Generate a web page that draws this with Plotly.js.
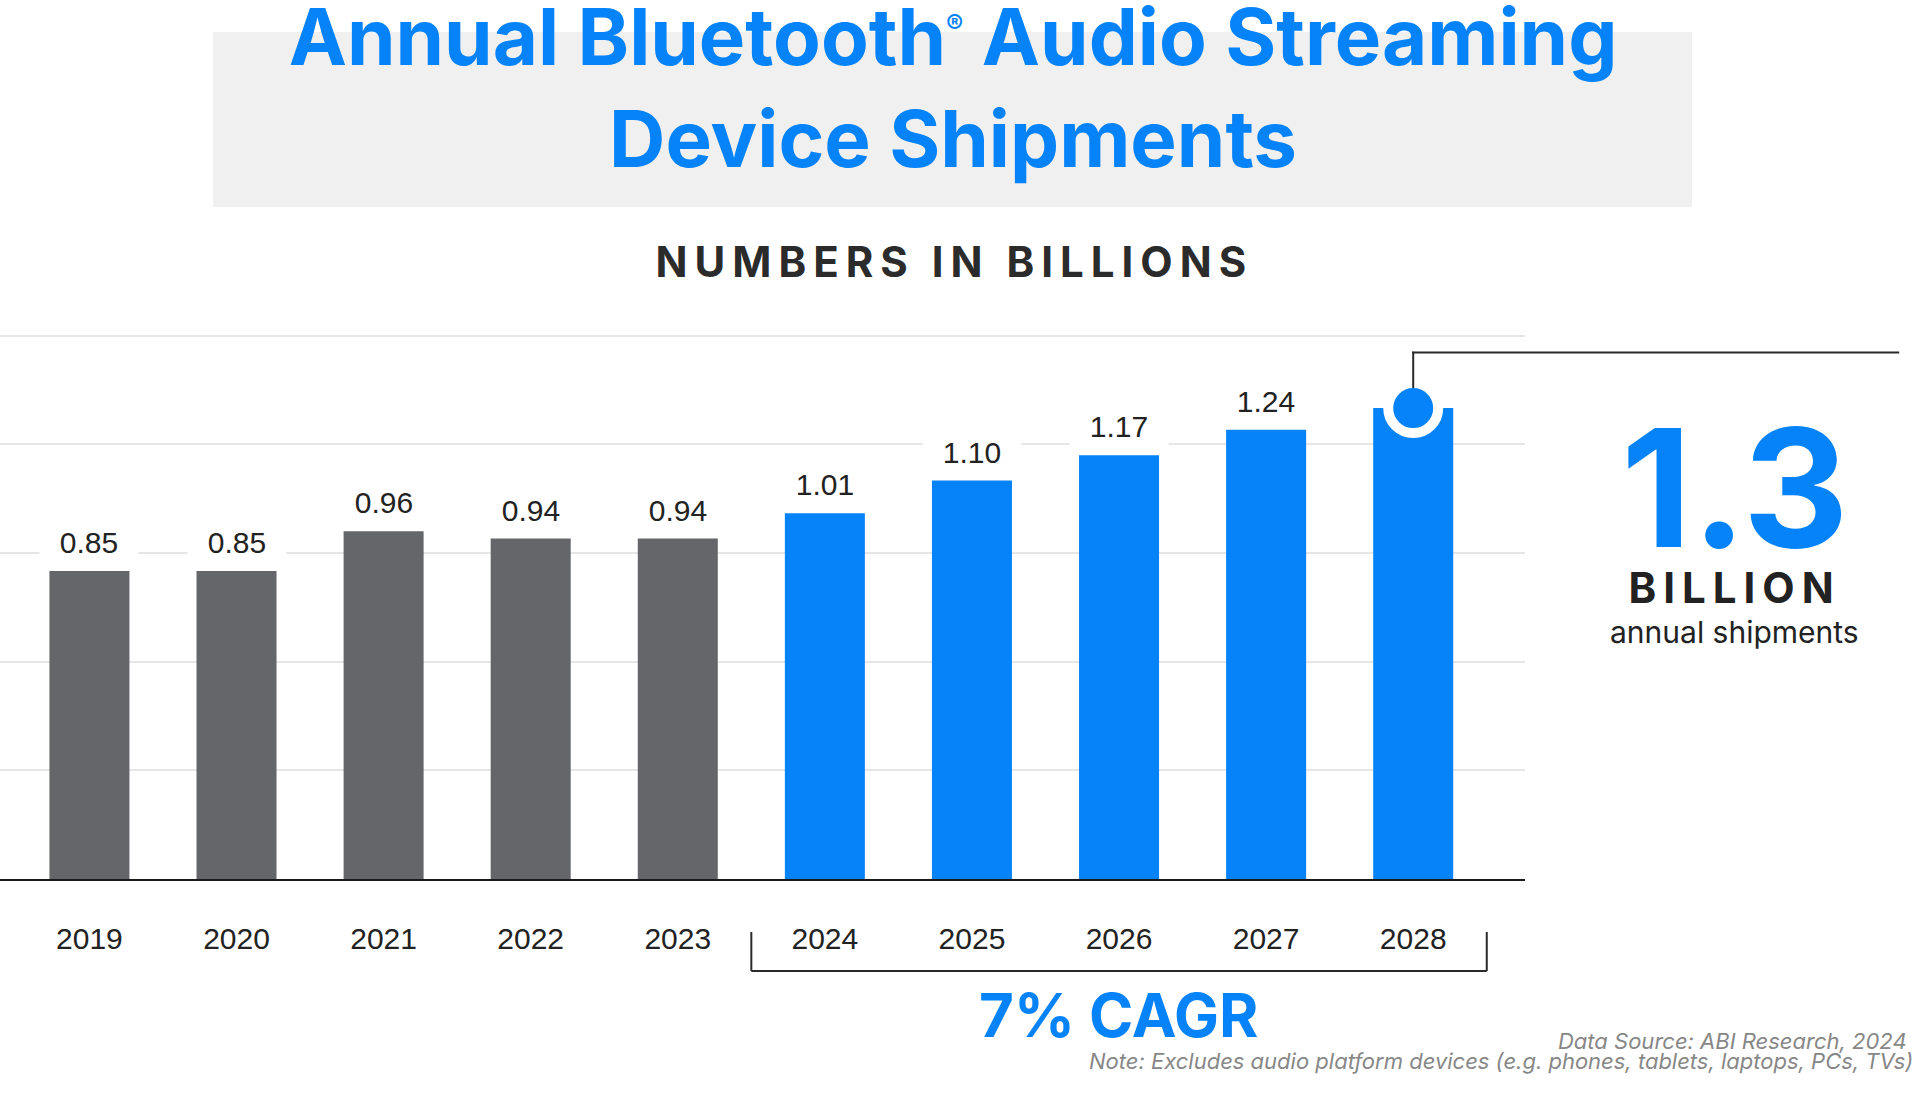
<!DOCTYPE html>
<html>
<head>
<meta charset="utf-8">
<script src="https://cdn.plot.ly/plotly-3.0.1.min.js"></script>
<style>
  html, body { margin: 0; padding: 0; background: #ffffff; }
  #chart { width: 1920px; height: 1097px; }
</style>
</head>
<body>
<div id="chart"></div>
<script>
// ---------------- DATA ----------------
const years = ['2019', '2020', '2021', '2022', '2023', '2024', '2025', '2026', '2027', '2028'];
const historicalYears = ['2019', '2020', '2021', '2022', '2023'];
const historicalValues = [0.85, 0.85, 0.96, 0.94, 0.94];
const forecastYears = ['2024', '2025', '2026', '2027', '2028'];
const forecastValues = [1.01, 1.10, 1.17, 1.24, 1.30];
const highlightText = '1.3';
const highlightUnit = 'BILLION';
const highlightCaption = 'annual shipments';
const cagrText = '7% CAGR';
const titleText = 'Annual Bluetooth<sup><span style="font-size:26px">®</span></sup> Audio Streaming<br>Device Shipments';
const subtitleText = 'NUMBERS IN BILLIONS';
const sourceText = 'Data Source: ABI Research, 2024';
const noteText = 'Note: Excludes audio platform devices (e.g. phones, tablets, laptops, PCs, TVs)';

// ---------------- STYLE ----------------
const GRAY = '#65666a';
const BLUE = '#0683f9';
const INK = '#222222';
const GEO = 'Inter, "Open Sans", sans-serif';
const SANS = '"Liberation Sans", Arial, sans-serif';
const X_RANGE = [-0.608, 9.76];

const idx = yr => years.indexOf(yr);   // numeric category position
const highlightYear = forecastYears[forecastYears.length - 1];
const highlightValue = forecastValues[forecastValues.length - 1];

const traces = [
  {
    type: 'bar', name: 'Historical', x: historicalYears, y: historicalValues,
    marker: { color: GRAY }, width: 0.544, hoverinfo: 'x+y'
  },
  {
    type: 'bar', name: 'Forecast', x: forecastYears, y: forecastValues,
    marker: { color: BLUE }, width: 0.544, hoverinfo: 'x+y'
  },
  {
    type: 'scatter', mode: 'markers', name: 'highlight',
    x: [highlightYear], y: [highlightValue],
    marker: { size: 50, color: BLUE, line: { color: '#ffffff', width: 10 } },
    cliponaxis: false, hoverinfo: 'skip'
  }
];

// value labels (all but the highlighted last year)
const annotations = [];
const allYears = historicalYears.concat(forecastYears);
const allValues = historicalValues.concat(forecastValues);
allYears.forEach((yr, i) => {
  if (yr === highlightYear) return;
  annotations.push({
    xref: 'x', yref: 'y', x: idx(yr), y: allValues[i],
    text: allValues[i].toFixed(2), showarrow: false,
    xanchor: 'center', yanchor: 'bottom', yshift: 8, bgcolor: '#ffffff', borderpad: 3, width: 92,
    font: { family: SANS, size: 30, color: INK }
  });
});

const bracketStart = idx(forecastYears[0]) - 0.5;
const bracketEnd = idx(forecastYears[forecastYears.length - 1]) + 0.5;

annotations.push(
  { xref: 'paper', yref: 'paper', x: 0.6259, y: 1.1310, text: subtitleText, showarrow: false,
    xanchor: 'center', yanchor: 'middle', font: { family: GEO, size: 42, color: '#2b2b2b', weight: 700 } },
  { xref: 'paper', yref: 'paper', x: 1.1377, y: 0.7179, text: highlightText, showarrow: false,
    xanchor: 'center', yanchor: 'middle', font: { family: GEO, size: 164, color: BLUE, weight: 700 } },
  { xref: 'paper', yref: 'paper', x: 1.1377, y: 0.5330, text: highlightUnit, showarrow: false,
    xanchor: 'center', yanchor: 'middle', font: { family: GEO, size: 42, color: INK, weight: 700 } },
  { xref: 'paper', yref: 'paper', x: 1.1377, y: 0.4524, text: highlightCaption, showarrow: false,
    xanchor: 'center', yanchor: 'middle', font: { family: GEO, size: 30, color: INK } },
  { xref: 'x', yref: 'paper', x: (bracketStart + bracketEnd) / 2, y: -0.2491, text: cagrText, showarrow: false,
    xanchor: 'center', yanchor: 'middle', font: { family: GEO, size: 60, color: BLUE, weight: 700 } },
  { xref: 'paper', yref: 'paper', x: 1.2518, y: -0.2958, text: sourceText, showarrow: false,
    xanchor: 'right', yanchor: 'middle', font: { family: GEO, size: 22, color: '#878787', style: 'italic' } },
  { xref: 'paper', yref: 'paper', x: 1.2557, y: -0.3335, text: noteText, showarrow: false,
    xanchor: 'right', yanchor: 'middle', font: { family: GEO, size: 22, color: '#878787', style: 'italic' } }
);

const lineStyle = { color: '#2a2a2a', width: 2 };
const hi = idx(highlightYear);
const hiPaperX = (hi - X_RANGE[0]) / (X_RANGE[1] - X_RANGE[0]);
const shapes = [
  // title backdrop
  { type: 'rect', xref: 'paper', yref: 'paper', x0: 0.13967, x1: 1.10951, y0: 1.2308, y1: 1.5513,
    fillcolor: '#f0f0f0', line: { width: 0 }, layer: 'below' },
  // callout vertical
  { type: 'line', xref: 'x', yref: 'y', x0: hi, x1: hi,
    ysizemode: 'pixel', yanchor: highlightValue, y0: 20, y1: 56.5, line: lineStyle, layer: 'above' },
  // callout horizontal (extends past the plot area)
  { type: 'line', xref: 'paper', yref: 'paper', xsizemode: 'pixel', xanchor: hiPaperX, x0: -1, x1: 486,
    y0: 0.9643, y1: 0.9643, line: lineStyle, layer: 'above' },
  // CAGR bracket
  { type: 'line', xref: 'x', yref: 'paper', x0: bracketStart, x1: bracketStart, y0: -0.0971, y1: -0.1685, line: lineStyle },
  { type: 'line', xref: 'x', yref: 'paper', x0: bracketStart, x1: bracketEnd, y0: -0.1685, y1: -0.1685, line: lineStyle },
  { type: 'line', xref: 'x', yref: 'paper', x0: bracketEnd, x1: bracketEnd, y0: -0.0971, y1: -0.1685, line: lineStyle }
];

const layout = {
  width: 1920, height: 1097,
  margin: { l: 0, r: 395, t: 333, b: 218, pad: 0 },
  paper_bgcolor: '#ffffff', plot_bgcolor: '#ffffff',
  showlegend: false,
  barmode: 'overlay',
  title: {
    text: titleText, x: 0.4964, xref: 'container', xanchor: 'center',
    y: 0.9405, yref: 'container', yanchor: 'top',
    font: { family: GEO, size: 78, color: BLUE, weight: 700 }
  },
  xaxis: {
    type: 'category', categoryorder: 'array', categoryarray: years,
    range: X_RANGE, fixedrange: true,
    showgrid: false, zeroline: false,
    showline: true, linecolor: '#1a1a1a', linewidth: 2,
    ticks: 'outside', ticklen: 32, tickcolor: 'rgba(0,0,0,0)',
    tickfont: { family: SANS, size: 30, color: INK }
  },
  yaxis: {
    range: [0, 1.5074], tick0: 0, dtick: 0.3, fixedrange: true,
    showgrid: true, gridcolor: '#e6e6e6', gridwidth: 2,
    zeroline: false, showticklabels: false, showline: false
  },
  annotations: annotations,
  shapes: shapes
};

const letterSpacing = {};
letterSpacing[subtitleText] = 7;
letterSpacing[highlightUnit] = 7;

Plotly.newPlot('chart', traces, layout, { displayModeBar: false, staticPlot: true }).then(gd => {
  gd.querySelectorAll('text').forEach(t => {
    const s = letterSpacing[t.textContent];
    if (s) t.style.letterSpacing = s + 'px';
  });
});
</script>
</body>
</html>
